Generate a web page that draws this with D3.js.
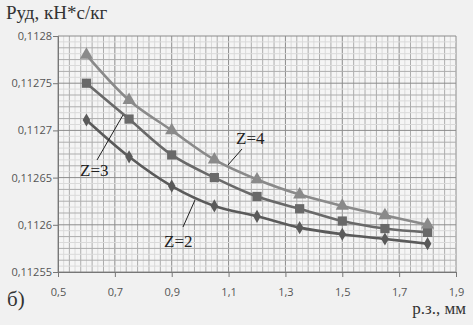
<!DOCTYPE html>
<html><head><meta charset="utf-8">
<script src="https://d3js.org/d3.v7.min.js"></script>
<style>body{margin:0;background:#f1f1f1}svg{display:block}</style>
</head><body>
<script>
const xValues = [0.6, 0.75, 0.9, 1.05, 1.2, 1.35, 1.5, 1.65, 1.8];
const z2 = [0.112711, 0.112672, 0.112641, 0.11262, 0.112609, 0.112597, 0.11259, 0.112585, 0.11258];
const z3 = [0.11275, 0.112712, 0.112674, 0.11265, 0.11263, 0.112617, 0.112604, 0.112596, 0.112592];
const z4 = [0.11278, 0.112732, 0.1127, 0.112669, 0.112648, 0.112632, 0.11262, 0.11261, 0.1126];
const xTicks = [0.5, 0.7, 0.9, 1.1, 1.3, 1.5, 1.7, 1.9];
const yTicks = [0.11255, 0.1126, 0.11265, 0.1127, 0.11275, 0.1128];
const seriesNames = ["Z=2", "Z=3", "Z=4"];

const W = 473, H = 325;
const svg = d3.select("body").append("svg").attr("width", W).attr("height", H);
svg.append("rect").attr("width", W).attr("height", H).attr("fill", "#f1f1f1");

const x = d3.scaleLinear().domain([0.5, 1.9]).range([58, 456]);
const y = d3.scaleLinear().domain([0.11255, 0.1128]).range([272, 36]);

const g = svg.append("g");
g.append("rect").attr("x", x(0.5)).attr("y", y(0.1128)).attr("width", x(1.9) - x(0.5)).attr("height", y(0.11255) - y(0.1128)).attr("fill", "#f5f5f5");

// grid
const xMinor = d3.range(0, 71).map(i => 0.5 + i * 0.02);
const yMinor = d3.range(0, 41).map(i => 0.11255 + i * 0.00000625);
xMinor.forEach((v, i) => {
  const col = i % 10 === 0 ? "#8c8c8c" : (i % 2 === 0 ? "#adadad" : "#dadada");
  g.append("line").attr("x1", x(v)).attr("x2", x(v)).attr("y1", y(0.11255)).attr("y2", y(0.1128)).attr("stroke", col).attr("stroke-width", 1);
});
yMinor.forEach((v, i) => {
  const col = i % 8 === 0 ? "#8c8c8c" : (i % 2 === 0 ? "#adadad" : "#dadada");
  g.append("line").attr("x1", x(0.5)).attr("x2", x(1.9)).attr("y1", y(v)).attr("y2", y(v)).attr("stroke", col).attr("stroke-width", 1);
});

// axes
const sans = "'Open Sans', sans-serif";
const xAxis = d3.axisBottom(x).tickValues(xTicks).tickSize(5).tickFormat(d => d3.format(".1f")(d).replace(".", ","));
const gx = svg.append("g").attr("transform", `translate(0,${y(0.11255)})`).call(xAxis);
gx.select(".domain").attr("stroke", "#777");
gx.selectAll(".tick line").attr("stroke", "#777");
gx.selectAll("text").attr("font-family", sans).attr("font-size", 11).attr("fill", "#555").attr("y", 24).attr("dy", 0);

const yAxis = d3.axisLeft(y).tickValues(yTicks).tickSize(5).tickFormat(d => String(+d.toFixed(6)).replace(".", ","));
const gy = svg.append("g").attr("transform", `translate(${x(0.5)},0)`).call(yAxis);
gy.select(".domain").attr("stroke", "#777");
gy.selectAll(".tick line").attr("stroke", "#777");
gy.selectAll("text").attr("font-family", sans).attr("font-size", 11).attr("fill", "#555").attr("x", -6);

// series
const line = d3.line().x((d, i) => x(xValues[i])).y(d => y(d)).curve(d3.curveCatmullRom.alpha(0.5));
const series = [
  {name: "Z=2", data: z2, color: "#5a5a5a", marker: "diamond"},
  {name: "Z=3", data: z3, color: "#696969", marker: "square"},
  {name: "Z=4", data: z4, color: "#8a8a8a", marker: "triangle"}
];
series.forEach(s => {
  g.append("path").attr("d", line(s.data)).attr("fill", "none").attr("stroke", s.color).attr("stroke-width", 2.6);
  const sym = s.marker === "diamond" ? d3.symbol().type(d3.symbolDiamond).size(50)
    : s.marker === "square" ? d3.symbol().type(d3.symbolSquare).size(85)
    : d3.symbol().type(d3.symbolTriangle).size(75);
  g.selectAll(null).data(s.data).enter().append("path")
    .attr("d", sym())
    .attr("transform", (d, i) => `translate(${x(xValues[i])},${y(d)})`)
    .attr("fill", s.color);
});

// labels
const serif = "'Liberation Serif', 'Times New Roman', serif";
svg.append("text").attr("x", 6).attr("y", 19).attr("font-family", serif).attr("font-size", 19).attr("fill", "#333").text("Руд, кН*с/кг");
svg.append("text").attr("x", 466).attr("y", 314).attr("text-anchor", "end").attr("font-family", serif).attr("font-size", 17).attr("fill", "#333").text("р.з., мм");
svg.append("text").attr("x", 7).attr("y", 306).attr("font-family", serif).attr("font-size", 21).attr("fill", "#333").text("б)");

const ann = [
  {t: seriesNames[2], tx: 236, ty: 144, l: [242, 149, 228, 165]},
  {t: seriesNames[1], tx: 80, ty: 176, l: [97, 160, 123, 115]},
  {t: seriesNames[0], tx: 164, ty: 247, l: [183, 227, 195, 200]}
];
ann.forEach(a => {
  svg.append("line").attr("x1", a.l[0]).attr("y1", a.l[1]).attr("x2", a.l[2]).attr("y2", a.l[3]).attr("stroke", "#222").attr("stroke-width", 1);
  svg.append("text").attr("x", a.tx).attr("y", a.ty).attr("font-family", serif).attr("font-size", 17).attr("fill", "#222").text(a.t);
});
</script>
</body></html>
